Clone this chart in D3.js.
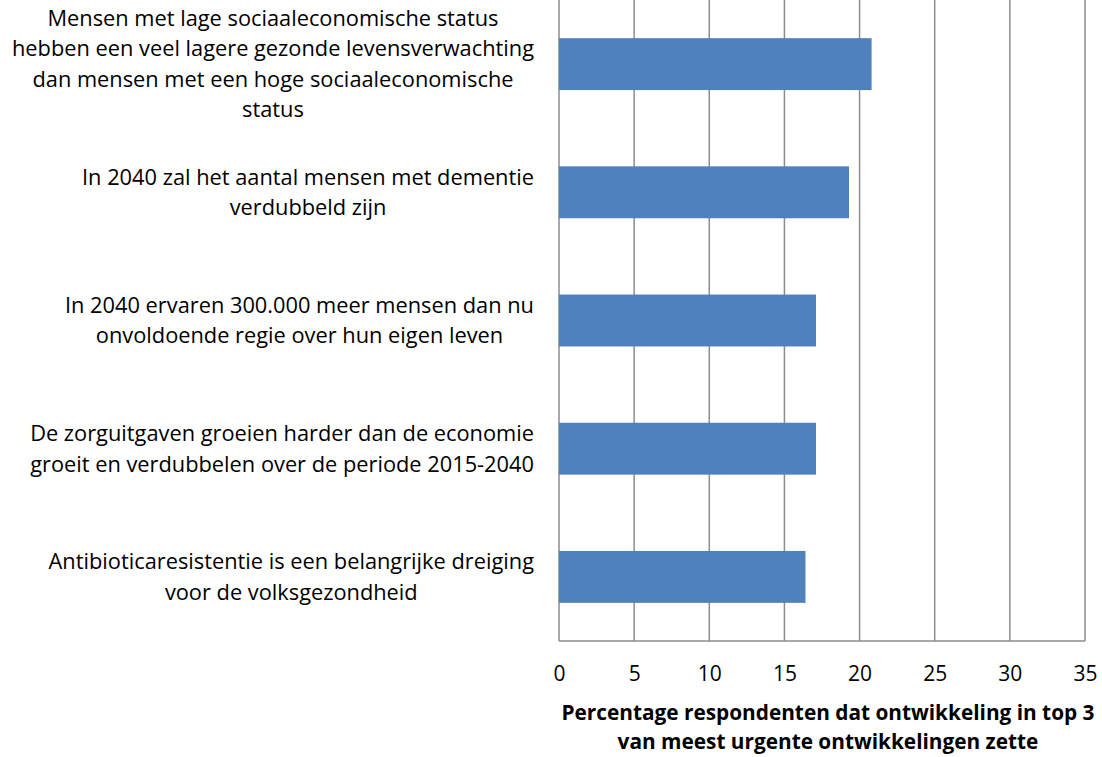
<html>
<head>
<script src="https://d3js.org/d3.v7.min.js"></script>
<style>
    body { margin: 0; background: #fff; }
    text { font-family: "Open Sans", Lato, sans-serif; fill: #000; }
</style>
</head>
<body>
<div id="chart"></div>
<script>
    // categories (top to bottom), each label split into its lines
    var labels = [
        ["Mensen met lage sociaaleconomische status", "hebben een veel lagere gezonde levensverwachting", "dan mensen met een hoge sociaaleconomische", "status"],
        ["In 2040 zal het aantal mensen met dementie", "verdubbeld zijn"],
        ["In 2040 ervaren 300.000 meer mensen dan nu", "onvoldoende regie over hun eigen leven"],
        ["De zorguitgaven groeien harder dan de economie", "groeit en verdubbelen over de periode 2015-2040"],
        ["Antibioticaresistentie is een belangrijke dreiging", "voor de volksgezondheid"]
    ];
    var values = [20.8, 19.3, 17.1, 17.1, 16.4];
    var xTicks = [0, 5, 10, 15, 20, 25, 30, 35];
    var axisTitle = ["Percentage respondenten dat ontwikkeling in top 3", "van meest urgente ontwikkelingen zette"];

    var width = 1102, height = 757;
    var margin = { top: 0, right: 17, bottom: 116, left: 559 };
    var w = width - margin.left - margin.right,
        h = height - margin.top - margin.bottom;

    var svg = d3.select("#chart").append("svg")
        .attr("width", width)
        .attr("height", height);

    var g = svg.append("g")
        .attr("transform", "translate(" + margin.left + "," + margin.top + ")");

    var x = d3.scaleLinear().domain([0, 35]).range([0, w]);
    var y = d3.scaleBand().domain(d3.range(labels.length)).range([0, h]).paddingInner(0.595).paddingOuter(0.2975);

    // gridlines
    g.selectAll(".grid")
        .data(xTicks)
        .enter()
        .append("line")
        .attr("x1", function (d) { return x(d) })
        .attr("x2", function (d) { return x(d) })
        .attr("y1", 0)
        .attr("y2", h)
        .attr("stroke", "#8c8c8c")
        .attr("stroke-width", 1.5);

    // bars
    g.selectAll(".bar")
        .data(values)
        .enter()
        .append("rect")
        .attr("x", x(0))
        .attr("y", function (d, i) { return y(i) })
        .attr("width", function (d) { return x(d) - x(0) })
        .attr("height", y.bandwidth())
        .attr("fill", "#4f81bd");

    // bottom axis line
    g.append("line")
        .attr("x1", 0).attr("x2", w)
        .attr("y1", h).attr("y2", h)
        .attr("stroke", "#8c8c8c")
        .attr("stroke-width", 1.5);

    // tick labels
    var xAxis = g.append("g")
        .attr("transform", "translate(0," + h + ")")
        .call(d3.axisBottom(x).tickValues(xTicks).tickSize(0).tickPadding(25));
    xAxis.select(".domain").remove();
    xAxis.selectAll("text")
        .style("font-family", "'Open Sans', Lato, sans-serif")
        .style("font-size", "21px")
        .attr("fill", "#000");

    // category labels: lines centred, block right aligned to 534
    var lineH = 30.5;
    labels.forEach(function (lines, i) {
        var cy = y(i) + y.bandwidth() / 2;
        var t = svg.append("text")
            .attr("font-size", "21.8px")
            .attr("text-anchor", "middle");
        lines.forEach(function (l, j) {
            t.append("tspan")
                .attr("x", 0)
                .attr("y", cy + (j - (lines.length - 1) / 2) * lineH)
                .attr("dy", "0.35em")
                .text(l);
        });
        var maxW = d3.max(t.selectAll("tspan").nodes(), function (n) { return n.getComputedTextLength() });
        t.selectAll("tspan").attr("x", 534 - maxW / 2);
    });

    // axis title
    var title = svg.append("text")
        .attr("text-anchor", "middle")
        .attr("font-size", "20.8px")
        .attr("font-weight", "bold");
    axisTitle.forEach(function (l, j) {
        title.append("tspan")
            .attr("x", 828)
            .attr("y", 713 + j * 29)
            .attr("dy", "0.35em")
            .text(l);
    });
</script>
</body>
</html>
